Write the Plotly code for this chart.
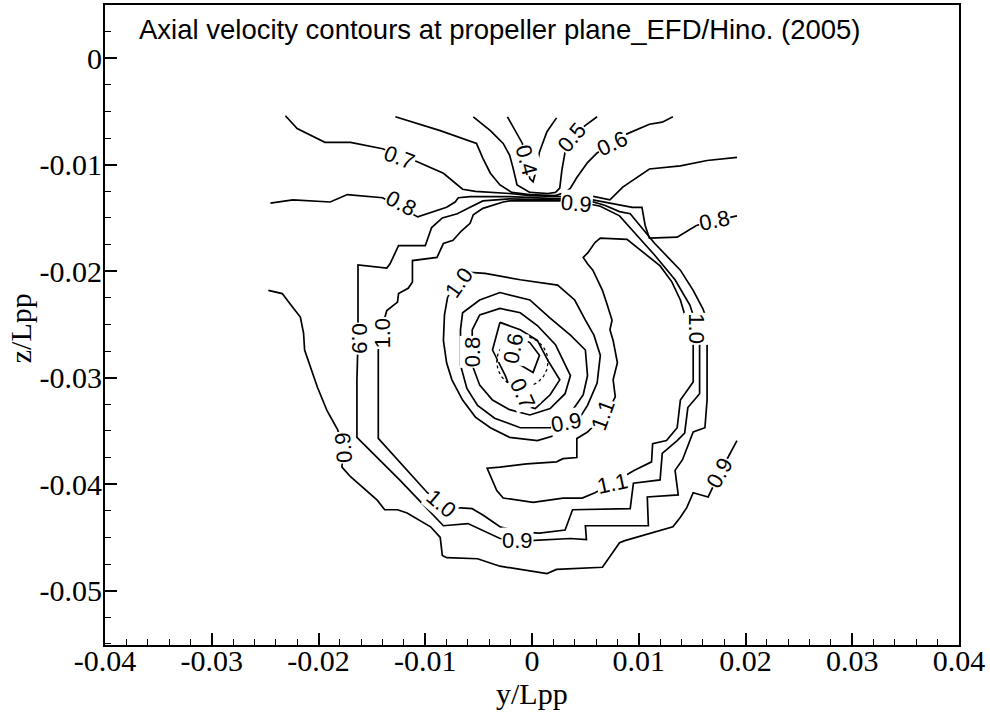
import numpy as np
import plotly.graph_objects as go

# All coordinates: y/Lpp and z/Lpp in units of 1e-4
UNIT = 1e-4

c04_y = [-23, -16, -9, -6, -2, 1, 4, 7, 14, 23]
c04_z = [-55, -68, -80, -96, -113, -116, -105, -88, -69, -56]

c05_y = [-55, -39, -27, -21, -18, -14, -2, 15, 22, 26, 28, 31, 37, 50, 61]
c05_z = [-55, -68, -80, -91, -102, -119, -126, -127, -126, -122, -105, -88, -75, -63, -55]

c06_y = [-128, -86, -52, -46, -39, -30, -19, -2, 22, 31, 36, 42, 52, 61, 75, 89, 110, 122, 132]
c06_z = [-55, -68, -80, -94, -108, -119, -126, -128, -129, -126, -122, -112, -98, -89, -80, -71, -62, -60, -55]

c07_y = [-231, -220, -194, -170, -140, -108, -83, -65, -53, -21, -2, 26, 54, 73, 85, 98, 110, 139, 164, 192]
c07_z = [-54, -66, -79, -79, -85, -97, -108, -123, -125, -127, -129, -130, -129, -133, -121, -112, -104, -101, -96, -93]

c08_y = [-245, -224, -189, -173, -140, -107, -80, -72, -69, -58, -21, -2, 26, 52, 94, 103, 106, 110, 136, 154, 169, 192]
c08_z = [-136, -133, -135, -128, -131, -149, -140, -135, -131, -130, -130, -131, -132, -132, -140, -140, -157, -169, -168, -157, -153, -148]

c09_y = [-21, -46, -58, -70, -84, -94, -100, -125, -133, -136, -163, -163, -163, -164, -164, -124, -83, -60, -30, -2,
         36, 51, 50, 109, 108, 137, 134, 141, 151, 162, 164, 164, 160, 151, 139, 115, 98, 92, 82, 68, 54, 26, -2, -21]
c09_z = [-132, -134, -140, -146, -150, -159, -176, -176, -193, -197, -194, -227, -265, -302, -356, -396, -439, -437, -451, -453,
         -451, -452, -439, -439, -412, -410, -387, -377, -351, -347, -321, -246, -235, -218, -199, -174, -154, -146, -144, -138, -134, -133, -132, -132]

c10_y = [-21, -27, -46, -55, -58, -66, -74, -83, -89, -112, -112, -116, -125, -126, -136, -138, -141, -144, -144, -98, -84, -70,
         -56, -46, -30, -11, 7, 31, 38, 92, 95, 120, 122, 136, 143, 146, 157, 157, 154, 148, 134, 115, 98, 82, 64, 45, 26, -2, -21]
c10_z = [-134, -135, -141, -147, -155, -162, -171, -174, -187, -190, -210, -216, -221, -229, -237, -244, -258, -274, -357, -408, -418, -422,
         -423, -429, -440, -445, -446, -443, -424, -423, -399, -396, -371, -359, -352, -328, -315, -265, -251, -232, -208, -185, -166, -148, -139, -135, -134, -134, -134]

c11_y = [151, 151, 139, 136, 126, 113, 112, 96, 75, 59, 47, 29, 1, -27, -33, -42, -30, -5, 23, 29, 42, 42, 52, 56, 67, 75,
         78, 76, 80, 76, 73, 75, 70, 66, 57, 52, 48, 52, 59, 64, 89, 106, 120, 131, 139, 144, 148, 151]
c11_z = [-267, -304, -321, -347, -359, -362, -379, -387, -399, -408, -413, -413, -417, -413, -406, -385, -384, -381, -379, -376, -375, -357, -351, -347, -335, -324,
         -318, -302, -286, -265, -255, -246, -230, -218, -199, -193, -187, -183, -173, -169, -170, -184, -195, -210, -227, -244, -255, -267]

c09o_y = [-247, -234, -224, -217, -214, -213, -201, -192, -182, -177, -178, -170, -145, -138, -126, -117, -95, -86, -84, -80, -51, -30,
          14, 23, 66, 82, 87, 132, 139, 145, 151, 165, 176, 192]
c09o_z = [-218, -221, -234, -243, -258, -274, -309, -331, -349, -366, -384, -393, -415, -424, -424, -427, -440, -450, -467, -469, -470, -477,
          -484, -480, -478, -455, -453, -440, -431, -422, -408, -412, -389, -359]

c10c_y = [-79, -82, -83, -80, -75, -65, -53, -39, -21, 5, 22, 40, 52, 61, 64, 58, 50, 40, 24, -11, -44, -58, -68, -79]
c10c_z = [-224, -241, -265, -286, -302, -321, -337, -347, -356, -359, -354, -345, -326, -305, -279, -260, -246, -227, -213, -208, -202, -201, -211, -224]

c09c_y = [-67, -65, -49, -30, -2, 17, 36, 50, 52, 48, 37, 32, 17, -11, -35, -51, -61, -67, -67]
c09c_z = [-255, -239, -227, -220, -227, -244, -260, -274, -298, -316, -332, -342, -347, -347, -338, -326, -310, -288, -255]

c08c_y = [-56, -49, -30, -11, 5, 22, 36, 31, 17, -2, -21, -37, -49, -56, -56]
c08c_z = [-255, -241, -235, -239, -251, -269, -298, -315, -329, -335, -330, -321, -307, -288, -255]

c07c_y = [-30, -11, 5, 15, 26, 17, 3, -7, -19, -25, -37, -30]
c07c_z = [-248, -255, -265, -284, -302, -316, -329, -326, -314, -298, -274, -248]

c06c_y = [-17, -2, 7, 1, -11, -19, -17]
c06c_z = [-260, -267, -279, -295, -288, -274, -260]

# propeller circle (dotted)
hub_y, hub_z, hub_r = -9, -285, 24

# contour labels
lab_text = ["0.4", "0.5", "0.6", "0.7", "0.8", "0.8", "0.9", "0.9", "1.0", "0.9", "1.0", "0.9",
            "1.1", "1.1", "1.0", "0.9", "1.0", "0.8", "0.9", "0.6", "0.7"]
lab_y = [-5, 37, 75, -124, -122, 171, 42, -161, -140, -177, -85, -14, 75, 67, 154, 176, -68, -56, 32, -17, -9]
lab_z = [-96, -74, -80, -93, -136, -152, -136, -263, -258, -366, -418, -453, -399, -335, -254, -389, -211, -276, -342, -272, -315]
lab_angle = [75, -50, -25, 21, 28, -12, 5, 90, -90, -95, 40, 0, -12, -70, 90, -60, -55, -90, -10, -80, 65]

# axis ticks
x_ticks = [-0.04, -0.03, -0.02, -0.01, 0, 0.01, 0.02, 0.03, 0.04]
x_ticktext = ["-0.04", "-0.03", "-0.02", "-0.01", "0", "0.01", "0.02", "0.03", "0.04"]
y_ticks = [0, -0.01, -0.02, -0.03, -0.04, -0.05]
y_ticktext = ["0", "-0.01", "-0.02", "-0.03", "-0.04", "-0.05"]

title_text = "Axial velocity contours at propeller plane_EFD/Hino. (2005)"

fig = go.Figure()

lines = [(c04_y, c04_z), (c05_y, c05_z), (c06_y, c06_z), (c07_y, c07_z), (c08_y, c08_z),
         (c09_y, c09_z), (c10_y, c10_z), (c11_y, c11_z), (c09o_y, c09o_z),
         (c10c_y, c10c_z), (c09c_y, c09c_z), (c08c_y, c08c_z), (c07c_y, c07c_z), (c06c_y, c06c_z)]
for ly, lz in lines:
    fig.add_trace(go.Scatter(x=np.array(ly) * UNIT, y=np.array(lz) * UNIT, mode="lines",
                             line=dict(color="black", width=1.7), hoverinfo="skip"))

t = np.linspace(0, 2 * np.pi, 120)
fig.add_trace(go.Scatter(x=(hub_y + hub_r * np.cos(t)) * UNIT, y=(hub_z + hub_r * np.sin(t)) * UNIT,
                         mode="lines", line=dict(color="black", width=1.3, dash="dot"), hoverinfo="skip"))

for txt, ly, lz, ang in zip(lab_text, lab_y, lab_z, lab_angle):
    fig.add_annotation(x=ly * UNIT, y=lz * UNIT, xref="x", yref="y", text=txt, textangle=ang,
                       showarrow=False, bgcolor="white", borderpad=0,
                       font=dict(family="Liberation Sans", size=22, color="black"))

fig.add_annotation(x=0.0375, y=0.962, xref="paper", yref="paper", text=title_text, showarrow=False,
                   xanchor="left", yanchor="middle", font=dict(family="Liberation Sans", size=27.5, color="black"))
fig.add_annotation(x=0.5, y=-0.075, xref="paper", yref="paper", text="y/Lpp", showarrow=False,
                   xanchor="center", yanchor="middle", font=dict(family="Liberation Serif", size=30, color="black"))
fig.add_annotation(x=-0.0995, y=0.495, xref="paper", yref="paper", text="z/Lpp", showarrow=False, textangle=-90,
                   xanchor="center", yanchor="middle", font=dict(family="Liberation Serif", size=30, color="black"))

axis_common = dict(showgrid=False, zeroline=False, showline=True, linecolor="black", linewidth=2, mirror=True,
                   ticks="inside", ticklen=12, tickwidth=1.5, tickcolor="black",
                   tickfont=dict(family="Liberation Serif", size=30, color="black"))
fig.update_xaxes(range=[-0.04, 0.04], tickvals=x_ticks, ticktext=x_ticktext, ticklabelstandoff=-12,
                 minor=dict(ticks="inside", ticklen=6, tickwidth=1.2, tickcolor="black", dtick=0.002, showgrid=False),
                 **axis_common)
fig.update_yaxes(range=[-0.0551, 0.005], tickvals=y_ticks, ticktext=y_ticktext, ticklabelstandoff=-5,
                 minor=dict(ticks="inside", ticklen=6, tickwidth=1.2, tickcolor="black", dtick=0.0025, showgrid=False),
                 **axis_common)
fig.update_layout(width=990, height=718, margin=dict(l=105, r=31, t=5, b=73, autoexpand=False),
                  plot_bgcolor="white", paper_bgcolor="white", showlegend=False)

fig.write_html("out.html", config={"displayModeBar": False},
               post_script="document.body.style.margin='0px';")
